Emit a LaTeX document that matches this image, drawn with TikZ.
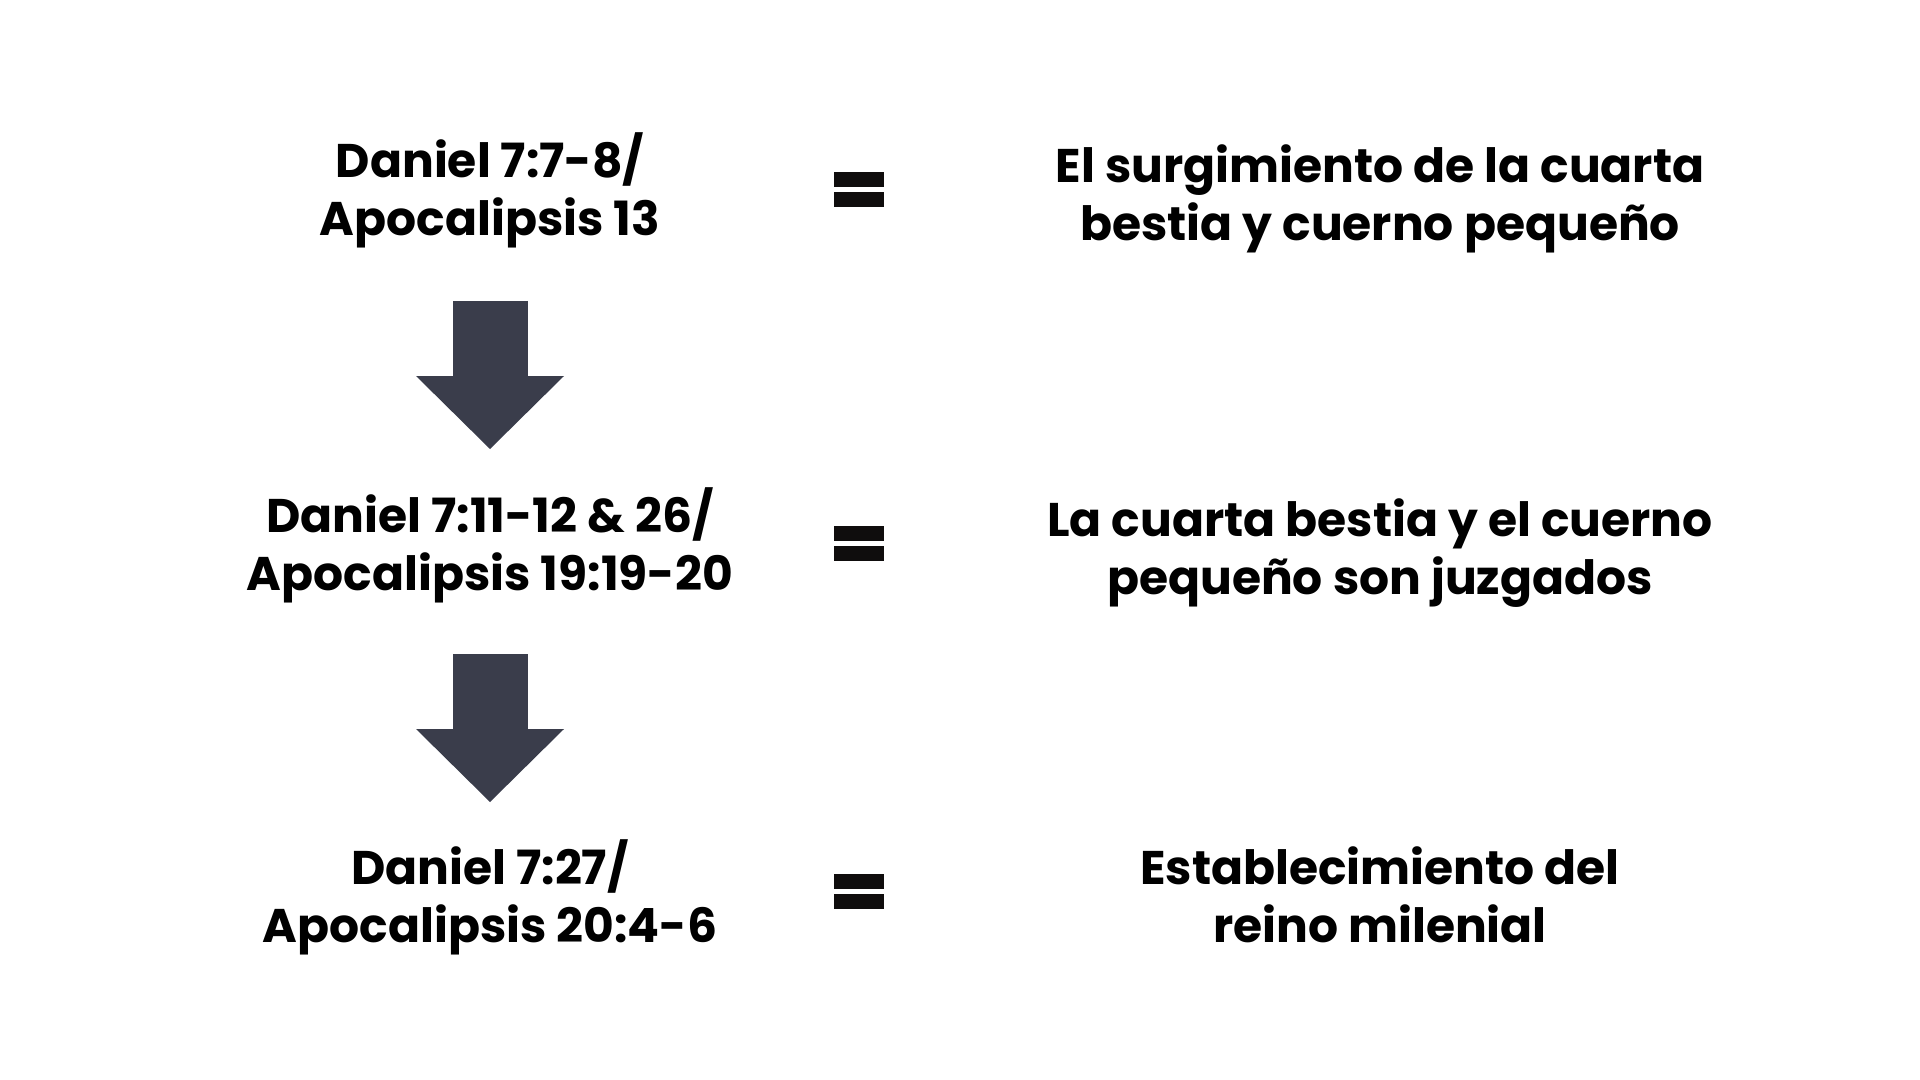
\documentclass[tikz,border=0pt]{standalone}
\usepackage{fontspec}
\setmainfont{Poppins}
\usetikzlibrary{calc}
\usetikzlibrary{arrows.meta}
\definecolor[named]{ArrowGray}{HTML}{3A3D4B}
\definecolor[named]{EqBlack}{HTML}{0F0D0D}
\tikzset{pxp/.style={
  x=0.5pt,
  y=-0.5pt
}}
\tikzset{txn/.style={
  align=center,
  inner sep=0pt,
  anchor=base,
  font=\fontsize{23.6pt}{29pt}\selectfont\bfseries
}}
\tikzset{dna/.style={
  draw=ArrowGray,
  line width=37.5pt,
  -{Triangle[length=36.5pt,width=74pt,line width=0pt]}
}}
\tikzset{eqs/.pic={
  \fill[EqBlack] (-25,-17.5) rectangle (25,-2.5);
  \fill[EqBlack] (-25,2.5) rectangle (25,17.5);
}}

\begin{document}
\begin{tikzpicture}[pxp]

    % Page
    \fill[white] (0,0) rectangle (1920,1080);
    \useasboundingbox (0,0) rectangle (1920,1080);

    %% Left column: passages

    \node[txn] (dan1) at (490,236) {Daniel 7:7-8/\\Apocalipsis 13};
    \node[txn] (dan2) at (490,590) {Daniel 7:11-12 \& 26/\\Apocalipsis 19:19-20};
    \node[txn] (dan3) at (490,942) {Daniel 7:27/\\Apocalipsis 20:4-6};

    % Arrows
    \draw[dna] ($(dan1.base)+(0,65)$) -- ($(dan2.base)+(0,-141)$);
    \draw[dna] ($(dan2.base)+(0,64)$) -- ($(dan3.base)+(0,-140)$);

    %% Equals signs

    \pic at (859,189.5) {eqs};
    \pic at (859,543) {eqs};
    \pic at (859,891) {eqs};

    %% Right column: meaning

    \node[txn] (mng1) at (1380,241) {El surgimiento de la cuarta\\bestia y cuerno pequeño};
    \node[txn] (mng2) at (1380,594) {La cuarta bestia y el cuerno\\pequeño son juzgados};
    \node[txn] (mng3) at (1380,942) {Establecimiento del\\reino milenial};

  \end{tikzpicture}
\end{document}
